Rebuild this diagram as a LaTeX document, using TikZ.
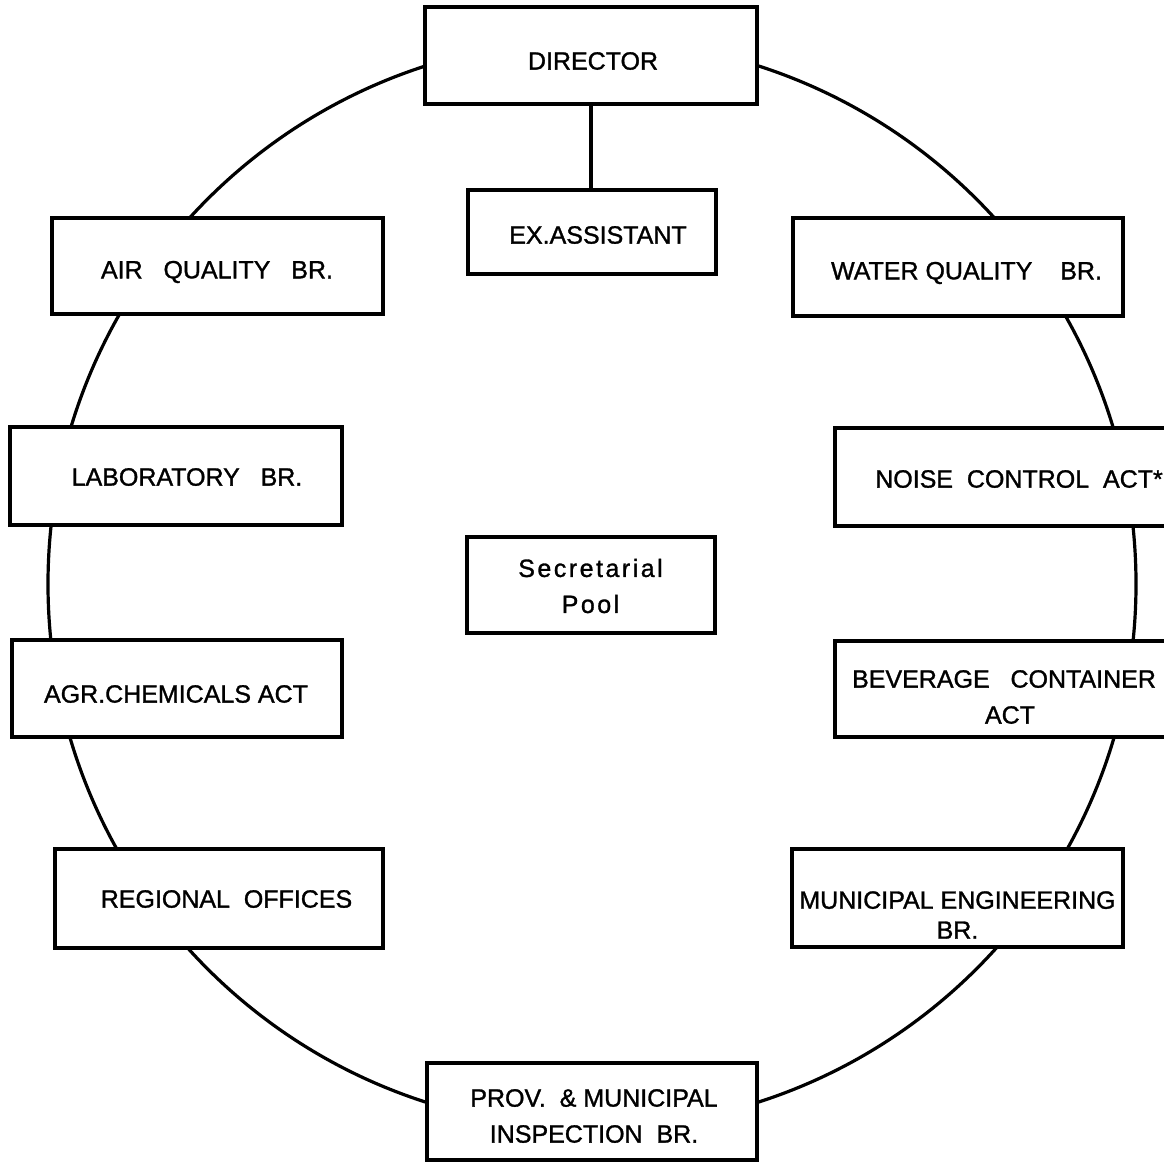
\documentclass[tikz,border=0pt]{standalone}
\usepackage{fontspec}
\setmainfont[FakeBold=1.2]{Liberation Sans}
\newfontfamily\secfont[LetterSpace=10,FakeBold=1.2]{Liberation Sans}
\begin{document}
\begin{tikzpicture}[x=1pt,y=-1pt,
  box/.style={draw=black,line width=3.2pt,fill=white,inner sep=0pt},
  lbl/.style={inner sep=0pt,align=center,font=\fontsize{25}{36}\selectfont},
  ring/.style={draw=black,line width=3.2pt}]
\useasboundingbox (0,0) rectangle (1164,1162);
\begin{scope}
\clip (0,0) rectangle (1164,1162);
\draw[ring] (592,584) circle [radius=544];
\node[box,minimum width=332,minimum height=97] (dir) at (591,55.5) {};
\node[box,minimum width=248,minimum height=84] (exa) at (592,232) {};
\node[box,minimum width=331,minimum height=96] (air) at (217.5,266) {};
\node[box,minimum width=330,minimum height=98] (wat) at (958,267) {};
\node[box,minimum width=332,minimum height=98] (lab) at (176,476) {};
\node[box,minimum width=350,minimum height=98] (noi) at (1010,477) {};
\node[box,minimum width=248,minimum height=96] (sec) at (591,585) {};
\node[box,minimum width=330,minimum height=97] (agr) at (177,688.5) {};
\node[box,minimum width=350,minimum height=96] (bev) at (1010,689) {};
\node[box,minimum width=328,minimum height=99] (reg) at (219,898.5) {};
\node[box,minimum width=331,minimum height=98] (mun) at (957.5,898) {};
\node[box,minimum width=330,minimum height=97] (pro) at (592,1111.5) {};
\draw[ring] (dir.south) -- (dir.south |- exa.north);
%
\node[lbl] (dirT) at (593,61) {DIRECTOR};
\node[lbl] (exaT) at (598,235) {EX.ASSISTANT};
\node[lbl] (airT) at (217,272) {AIR\ \ \ QUALITY\ \ \ BR.};
\node[lbl] (watT) at (966.5,273) {WATER QUALITY\ \ \ \ BR.};
\node[lbl] (labT) at (187,477) {LABORATORY\ \ \ BR.};
\node[lbl] (noiT) at (1019,479) {NOISE\ \ CONTROL\ \ ACT*};
\node[lbl,font=\fontsize{25}{36}\secfont] (secT) at (590.5,586) {Secretarial\\Pool};
\node[lbl] (agrT) at (176,694) {AGR.CHEMICALS ACT};
\node[lbl] (bevT) at (1004,697) {BEVERAGE\ \ \ CONTAINER\\\hspace*{12pt}ACT};
\node[lbl] (regT) at (226.5,899) {REGIONAL\ \ OFFICES};
\node[lbl,font=\fontsize{25}{30}\selectfont] (munT) at (957.5,915) {MUNICIPAL ENGINEERING\\BR.};
\node[lbl] (proT) at (594,1116) {PROV.\ \ \&\ MUNICIPAL\\INSPECTION\ \ BR.};
\end{scope}
\end{tikzpicture}
\end{document}
